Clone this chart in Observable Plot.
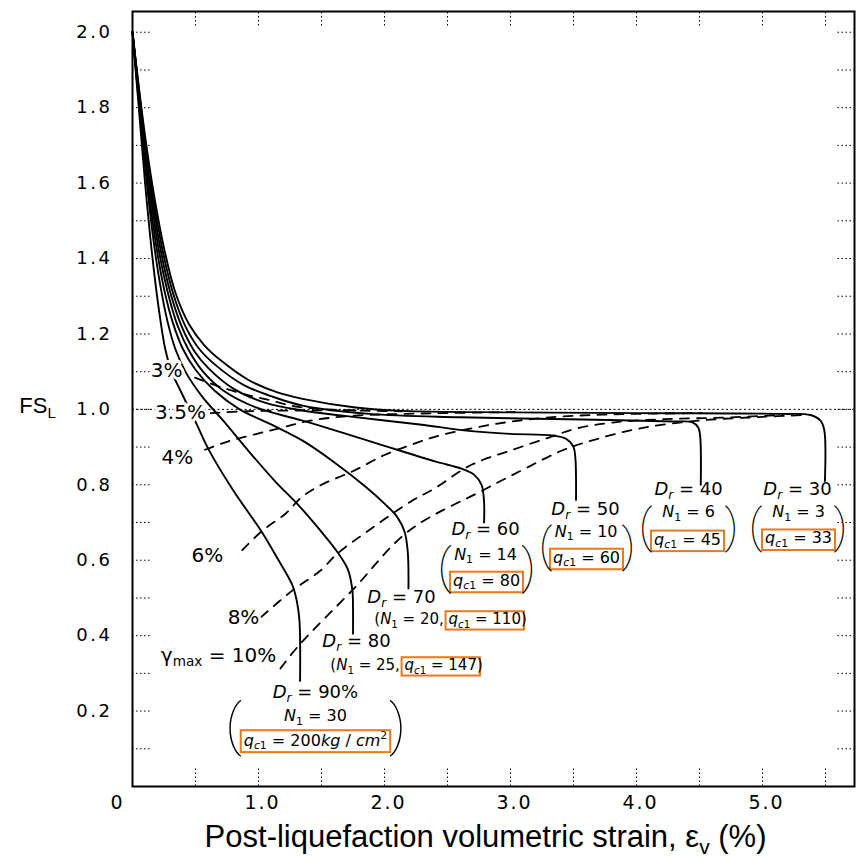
<!DOCTYPE html>
<html><head><meta charset="utf-8">
<script src="https://cdn.jsdelivr.net/npm/d3@7"></script>
<script src="https://cdn.jsdelivr.net/npm/@observablehq/plot@0.6"></script>
<style>
body{margin:0;background:#fff;}
svg{display:block;}
g[aria-label="y-axis tick label"] text{letter-spacing:2.5px;}
g[aria-label="x-axis tick label"] text{letter-spacing:2px;}
</style>
</head><body><div id="chart"></div>
<script>
// ---- Solid curves: FS_L vs post-liquefaction volumetric strain (%) for each Dr ----
const dr90 = [[0,2.0],[0.03,1.88],[0.065,1.74],[0.1,1.6],[0.14,1.46],[0.18,1.34],[0.22,1.24],[0.26,1.16],[0.31,1.1],[0.38,1.05],[0.51,0.96],[0.61,0.89],[0.8,0.785],[1.02,0.678],[1.15,0.605],[1.27,0.533],[1.305,0.49],[1.325,0.44],[1.33,0.28]];
const dr80 = [[0,2.0],[0.035,1.87],[0.075,1.73],[0.12,1.58],[0.17,1.44],[0.22,1.33],[0.28,1.23],[0.34,1.16],[0.42,1.1],[0.55,1.035],[0.72,0.97],[0.92,0.89],[1.13,0.81],[1.32,0.745],[1.5,0.675],[1.63,0.62],[1.71,0.575],[1.745,0.52],[1.75,0.47],[1.75,0.405]];
const dr70 = [[0,2.0],[0.04,1.86],[0.085,1.71],[0.135,1.56],[0.19,1.43],[0.25,1.32],[0.32,1.23],[0.4,1.16],[0.5,1.105],[0.65,1.05],[0.85,1.0],[1.1,0.96],[1.35,0.917],[1.6,0.86],[1.85,0.795],[2.0,0.75],[2.1,0.715],[2.16,0.675],[2.185,0.62],[2.19,0.525]];
const dr60 = [[0,2.0],[0.045,1.85],[0.095,1.7],[0.15,1.55],[0.21,1.42],[0.28,1.31],[0.36,1.22],[0.45,1.155],[0.56,1.1],[0.72,1.05],[0.98,1.005],[1.35,0.97],[1.88,0.916],[2.4,0.862],[2.61,0.843],[2.71,0.827],[2.77,0.8],[2.79,0.755],[2.79,0.70]];
const dr50 = [[0,2.0],[0.048,1.85],[0.1,1.7],[0.16,1.55],[0.225,1.42],[0.3,1.31],[0.39,1.22],[0.49,1.155],[0.6,1.11],[0.8,1.055],[1.05,1.018],[1.35,0.997],[1.7,0.982],[2.28,0.96],[2.67,0.943],[3.0,0.935],[3.33,0.931],[3.44,0.922],[3.5,0.9],[3.515,0.87],[3.52,0.76]];
const dr40 = [[0,2.0],[0.05,1.85],[0.105,1.7],[0.17,1.55],[0.24,1.42],[0.32,1.31],[0.42,1.22],[0.53,1.16],[0.65,1.12],[0.88,1.065],[1.1,1.035],[1.35,1.01],[1.88,0.988],[2.6,0.979],[3.57,0.973],[4.3,0.968],[4.44,0.966],[4.49,0.952],[4.505,0.93],[4.51,0.80]];
const dr30 = [[0,2.0],[0.052,1.85],[0.11,1.7],[0.18,1.55],[0.255,1.42],[0.34,1.31],[0.45,1.225],[0.57,1.17],[0.7,1.13],[0.92,1.078],[1.15,1.045],[1.35,1.028],[1.77,1.005],[2.14,0.996],[3.0,0.992],[4.0,0.99],[5.16,0.988],[5.38,0.985],[5.46,0.97],[5.49,0.945],[5.495,0.81]];

// ---- Dashed curves: maximum shear strain gamma_max ----
const g10 = [[1.174,0.313],[1.32,0.374],[1.755,0.524],[2.19,0.677],[2.79,0.787],[3.11,0.842],[3.41,0.891],[3.67,0.92],[4.05,0.951],[4.52,0.971],[5.0,0.98],[5.32,0.985]];
const g8 = [[1.02,0.449],[1.27,0.52],[1.49,0.572],[1.625,0.617],[1.866,0.677],[2.21,0.756],[2.395,0.79],[2.69,0.853],[3.01,0.892],[3.31,0.926],[3.52,0.949],[3.81,0.965],[4.21,0.974],[4.68,0.978],[5.16,0.985]];
const g6 = [[0.871,0.627],[1.033,0.679],[1.217,0.724],[1.338,0.766],[1.5,0.8],[1.755,0.837],[2.0,0.879],[2.22,0.907],[2.44,0.931],[2.84,0.959],[3.25,0.977],[3.73,0.986],[4.52,0.99]];
const g4 = [[0.575,0.893],[0.766,0.916],[0.973,0.934],[1.19,0.952],[1.41,0.97],[1.746,0.983],[2.3,0.989],[3.1,0.993]];
const g35 = [[0.62,0.99],[0.9,0.995],[1.3,0.997],[1.8,0.997]];
const g3 = [[0.496,1.084],[0.717,1.057],[0.915,1.038],[1.097,1.024],[1.287,1.008],[1.587,0.999],[2.14,0.995]];

// ---- Tick values ----
const xLabelTicks = [1, 2, 3, 4, 5];
const yLabelTicks = [0.2, 0.4, 0.6, 0.8, 1.0, 1.2, 1.4, 1.6, 1.8, 2.0];
const xMinorTicks = [0.5, 1, 1.5, 2, 2.5, 3, 3.5, 4, 4.5, 5, 5.5];
const yMinorTicks = [0.1,0.2,0.3,0.4,0.5,0.6,0.7,0.8,0.9,1.0,1.1,1.2,1.3,1.4,1.5,1.6,1.7,1.8,1.9,2.0];

// ---- Labels (markup: *italic*, _{sub}, ^{sup}, [boxed]) ----
const drLabels = ["*D*_{*r*} = 90%","*D*_{*r*} = 80","*D*_{*r*} = 70","*D*_{*r*} = 60","*D*_{*r*} = 50","*D*_{*r*} = 40","*D*_{*r*} = 30"];
const drLabelX = [1.452, 1.778, 2.135, 2.802, 3.595, 4.413, 5.278];
const drLabelY = [0.249, 0.385, 0.502, 0.682, 0.735, 0.788, 0.788];

const nLabels = ["*N*_{1} = 30","*N*_{1} = 14","*N*_{1} = 10","*N*_{1} = 6","*N*_{1} = 3"];
const nLabelX = [1.452, 2.802, 3.6, 4.413, 5.286];
const nLabelY = [0.186, 0.615, 0.676, 0.727, 0.727];

const inlineLabels = ["(*N*_{1} = 25, [*q*_{*c*1} = 147])","(*N*_{1} = 20, [*q*_{*c*1} = 110])"];
const inlineX = [2.175, 2.524];
const inlineY = [0.321, 0.443];

const qLabels = ["[*q*_{*c*1} = 200*kg* / *cm*^{2}]","[*q*_{*c*1} = 80]","[*q*_{*c*1} = 60]","[*q*_{*c*1} = 45]","[*q*_{*c*1} = 33]"];
const qLabelX = [1.452, 2.81, 3.603, 4.405, 5.286];
const qLabelY = [0.122, 0.546, 0.607, 0.655, 0.658];

const parenText = ["(", ")", "(", ")", "(", ")", "(", ")", "(", ")"];
const parenX = [0.802, 2.103, 2.476, 3.143, 3.278, 3.937, 4.071, 4.754, 4.944, 5.619];
const parenY = [0.159, 0.159, 0.581, 0.581, 0.637, 0.637, 0.687, 0.687, 0.687, 0.687];
const parenSize = [56, 56, 48, 48, 46, 46, 46, 46, 46, 46];

const gammaLabels = ["3%","3.5%","4%","6%","8%","γ_{max} = 10%"];
const gammaX = [0.27, 0.381, 0.357, 0.595, 0.881, 0.683];
const gammaY = [1.103, 0.992, 0.873, 0.613, 0.448, 0.347];

const yTitle = "FS_{L}";
const xTitle = "Post-liquefaction volumetric strain, ε_{v} (%)";

// ---- Build tables ----
const solidRows = [["90",dr90],["80",dr80],["70",dr70],["60",dr60],["50",dr50],["40",dr40],["30",dr30]]
  .flatMap(([k, pts]) => pts.map(([x, y]) => ({k, x, y})));
const dashRows = [["10",g10],["8",g8],["6",g6],["4",g4],["3.5",g35],["3",g3]]
  .flatMap(([k, pts]) => pts.map(([x, y]) => ({k, x, y})));
const mk = (t, X, Y) => t.map((s, i) => ({t: s, x: X[i], y: Y[i]}));

const chart = Plot.plot({
  width: 860, height: 857,
  marginLeft: 132, marginRight: 6, marginTop: 11, marginBottom: 71,
  x: {domain: [0, 5.73], label: null},
  y: {domain: [0, 2.055], label: null},
  style: {fontFamily: "DejaVu Sans", fontSize: "18px", background: "#fff", overflow: "visible"},
  marks: [
    Plot.ruleY([1], {stroke: "#000", strokeWidth: 1, strokeDasharray: "2,2.5"}),
    Plot.axisY(yMinorTicks, {anchor: "left", tickSize: -18, tickFormat: () => "", strokeDasharray: "1.5,2.5", label: null}),
    Plot.axisY(yMinorTicks, {anchor: "right", tickSize: -18, tickFormat: () => "", strokeDasharray: "1.5,2.5", label: null}),
    Plot.axisX(xMinorTicks, {anchor: "bottom", tickSize: -20, tickFormat: () => "", strokeDasharray: "1.5,2.5", label: null}),
    Plot.axisX(xMinorTicks, {anchor: "top", tickSize: -15, tickFormat: () => "", strokeDasharray: "1.5,2.5", label: null}),
    Plot.axisY(yLabelTicks, {anchor: "left", tickSize: 0, tickPadding: 20, tickFormat: d3.format(".1f"), fontSize: 18, label: null}),
    Plot.axisX(xLabelTicks, {anchor: "bottom", tickSize: 0, tickPadding: 9, tickFormat: d3.format(".1f"), dx: 4, fontSize: 19, label: null}),
    Plot.axisX([0], {anchor: "bottom", tickSize: 0, tickPadding: 9, tickFormat: () => "0", dx: -15, fontSize: 19, label: null}),
    Plot.line(dashRows, {x: "x", y: "y", z: "k", stroke: "#000", strokeWidth: 1.8, strokeDasharray: "9,8", curve: "catmull-rom"}),
    Plot.line(solidRows, {x: "x", y: "y", z: "k", stroke: "#000", strokeWidth: 1.9, curve: "catmull-rom"}),
    Plot.frame({stroke: "#000", strokeWidth: 2}),
    Plot.text(mk(gammaLabels, gammaX, gammaY), {x: "x", y: "y", text: "t", fontSize: 20, stroke: "#fff", strokeWidth: 6, fill: "#000"}),
    Plot.text(mk(drLabels, drLabelX, drLabelY), {x: "x", y: "y", text: "t", fontSize: 18}),
    Plot.text(mk(nLabels, nLabelX, nLabelY), {x: "x", y: "y", text: "t", fontSize: 16}),
    Plot.text(mk(inlineLabels, inlineX, inlineY), {x: "x", y: "y", text: "t", fontSize: 15}),
    Plot.text(mk(qLabels, qLabelX, qLabelY), {x: "x", y: "y", text: "t", fontSize: 16}),
    Plot.text(parenText.map((t, i) => ({t, x: parenX[i], y: parenY[i], s: parenSize[i]})), {x: "x", y: "y", text: "t", fontSize: "s", fontFamily: "Roboto", fontWeight: 100}),
    Plot.text([yTitle], {x: -0.754, y: 1.008, text: d => d, fontSize: 22, fontFamily: "Liberation Sans"}),
    Plot.text([xTitle], {x: 2.802, y: -0.135, text: d => d, fontSize: 31, fontFamily: "Liberation Sans"})
  ]
});
document.getElementById("chart").append(chart);

// ---- rich text: italic, subscripts, superscripts and orange boxes ----
function parseRich(s) {
  const segs = []; let italic = false, box = false, buf = "", i = 0;
  const push = (text, mode, it) => { if (text) segs.push({text, italic: it, box, mode}); };
  while (i < s.length) {
    const c = s[i];
    if (c === "*") { push(buf, "n", italic); buf = ""; italic = !italic; i++; continue; }
    if (c === "[") { push(buf, "n", italic); buf = ""; box = true; i++; continue; }
    if (c === "]") { push(buf, "n", italic); buf = ""; box = false; i++; continue; }
    if ((c === "_" || c === "^") && s[i + 1] === "{") {
      push(buf, "n", italic); buf = "";
      const j = s.indexOf("}", i + 2);
      const inner = s.slice(i + 2, j);
      const mode = c === "_" ? "sub" : "sup";
      let it = italic, b = "";
      for (const ch of inner) {
        if (ch === "*") { push(b, mode, it); b = ""; it = !it; } else b += ch;
      }
      push(b, mode, it);
      i = j + 1; continue;
    }
    buf += c; i++;
  }
  push(buf, "n", italic);
  return segs;
}
const NS = "http://www.w3.org/2000/svg";
chart.querySelectorAll("text").forEach(el => {
  const s = el.textContent;
  if (!/[*_^\[]/.test(s)) return;
  const fs = parseFloat(getComputedStyle(el).fontSize);
  const segs = parseRich(s);
  el.textContent = "";
  let cur = 0; const boxed = [];
  for (const g of segs) {
    const t = document.createElementNS(NS, "tspan");
    const off = g.mode === "sub" ? 0.22 * fs : g.mode === "sup" ? -0.4 * fs : 0;
    if (off !== cur) { t.setAttribute("dy", off - cur); cur = off; }
    if (g.mode !== "n") t.setAttribute("font-size", 0.68 * fs);
    if (g.italic) t.setAttribute("font-style", "italic");
    t.textContent = g.text;
    el.appendChild(t);
    if (g.box) boxed.push(t);
  }
  if (boxed.length) {
    let x0 = Infinity, y0 = Infinity, x1 = -Infinity, y1 = -Infinity;
    for (const t of boxed) {
      const b = t.getBBox();
      x0 = Math.min(x0, b.x); y0 = Math.min(y0, b.y);
      x1 = Math.max(x1, b.x + b.width); y1 = Math.max(y1, b.y + b.height);
    }
    const r = document.createElementNS(NS, "rect");
    r.setAttribute("x", x0 - 3); r.setAttribute("y", y0 + 1);
    r.setAttribute("width", x1 - x0 + 6); r.setAttribute("height", y1 - y0 - 1);
    r.setAttribute("fill", "none"); r.setAttribute("stroke", "#e8791c"); r.setAttribute("stroke-width", 2);
    const tr = el.getAttribute("transform"); if (tr) r.setAttribute("transform", tr);
    el.parentNode.insertBefore(r, el);
  }
});
</script>
</body></html>
